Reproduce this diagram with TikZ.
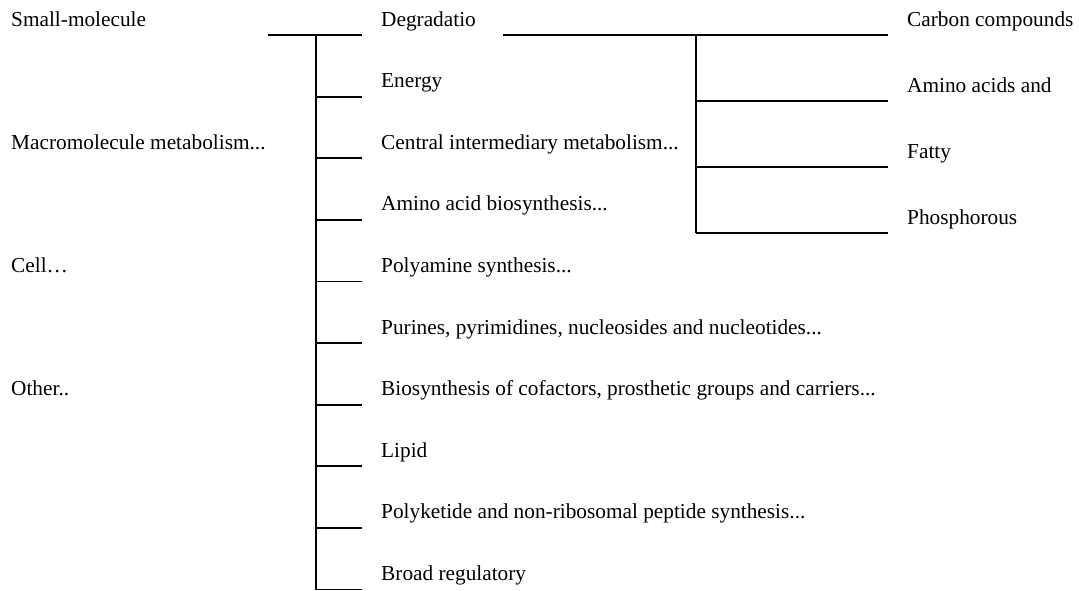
\documentclass[tikz,border=0pt]{standalone}
\usepackage{fontspec}
\setmainfont{Liberation Serif}
\begin{document}
\begin{tikzpicture}[x=1pt,y=1pt,
  lbl/.style={anchor=base west,inner sep=0pt,font=\fontsize{21.3}{25}\selectfont},
  trunk/.style={line width=2.8pt},
  twig/.style={line width=1.8pt}]
\useasboundingbox (0,0) rectangle (1079,-590);
% left labels
\node[lbl] (l1) at (11,-26) {Small-molecule};
\node[lbl] (l2) at (11,-149) {Macromolecule metabolism...};
\node[lbl] (l3) at (11,-272) {Cell…};
\node[lbl] (l4) at (11,-395) {Other..};
% middle labels
\node[lbl] (m1) at (381,-26) {Degradatio};
\node[lbl] (m2) at (381,{-26-61.6*1}) {Energy};
\node[lbl] (m3) at (381,{-26-61.6*2}) {Central intermediary metabolism...};
\node[lbl] (m4) at (381,{-26-61.6*3}) {Amino acid biosynthesis...};
\node[lbl] (m5) at (381,{-26-61.6*4}) {Polyamine synthesis...};
\node[lbl] (m6) at (381,{-26-61.6*5}) {Purines, pyrimidines, nucleosides and nucleotides...};
\node[lbl] (m7) at (381,{-26-61.6*6}) {Biosynthesis of cofactors, prosthetic groups and carriers...};
\node[lbl] (m8) at (381,{-26-61.6*7}) {Lipid};
\node[lbl] (m9) at (381,{-26-61.6*8}) {Polyketide and non-ribosomal peptide synthesis...};
\node[lbl] (m10) at (381,{-26-61.6*9}) {Broad regulatory};
\foreach \k in {1,...,10}{
  \coordinate (bm\k) at (316,{-35-61.6*(\k-1)});
  \coordinate (em\k) at (362,{-35-61.6*(\k-1)});
}
% right labels
\node[lbl] (r1) at (907,-26) {Carbon compounds};
\node[lbl] (r2) at (907,-92) {Amino acids and};
\node[lbl] (r3) at (907,-158) {Fatty};
\node[lbl] (r4) at (907,-224) {Phosphorous};
% left tree
\coordinate (ls) at (268,-35);
\coordinate (lbot) at (316,-590);
\draw[trunk] (ls) -- (bm1);
\draw[trunk] (bm1) -- (lbot);
\foreach \k in {1,...,10} \draw[twig] (bm\k) -- (em\k);
% right tree
\coordinate (rs) at (503,-35);
\coordinate (rj1) at (696,-35);
\coordinate (rj2) at (696,-101);
\coordinate (rj3) at (696,-167);
\coordinate (rj4) at (696,-233);
\coordinate (re1) at (888,-35);
\coordinate (re2) at (888,-101);
\coordinate (re3) at (888,-167);
\coordinate (re4) at (888,-233);
\draw[trunk] (rs) -- (rj1);
\draw[trunk] (rj1) -- (rj4);
\foreach \k in {1,2,3,4} \draw[twig] (rj\k) -- (re\k);
\end{tikzpicture}
\end{document}
